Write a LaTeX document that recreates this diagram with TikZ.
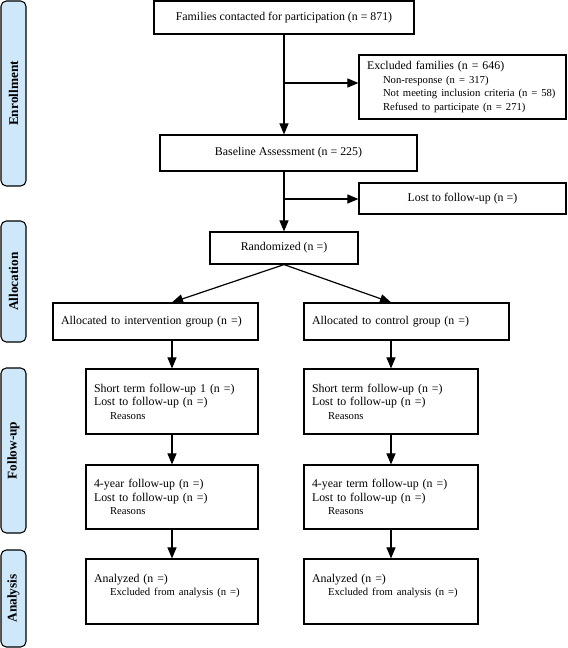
\documentclass[tikz,border=0pt]{standalone}
\usepackage{fontspec}
\setmainfont{Liberation Serif}
\usetikzlibrary{arrows}
\definecolor{stageblue}{RGB}{206,232,250}
\newcommand{\subline}[1]{\hspace*{12pt}{\fontsize{8}{10.1}\selectfont #1}}

\begin{document}
\begin{tikzpicture}[>=triangle 45, x=0.75pt, y=-0.75pt, line width=0.9pt]
			\tikzstyle{every node} = [font=\fontsize{8.9}{10.1}\selectfont];
			\tikzstyle{box} = [draw=black, rectangle, inner ysep=0pt, align=center];
			\tikzstyle{leftbox} = [box, align=left, inner xsep=6pt];
			\tikzstyle{stage} = [draw=black, fill=stageblue, rounded corners=4pt, rotate=90, minimum height=18.75pt, inner sep=0pt, line width=0.8pt, font=\bfseries\fontsize{10}{12}\selectfont];
			\useasboundingbox (0,0) rectangle (567,648);
			% phase bars on the left
			\node[stage, minimum width=138.75pt] (enrol) at (13.5, 93.5) {Enrollment};
			\node[stage, minimum width=90.75pt] (alloc) at (13.5, 281.5) {Allocation};
			\node[stage, minimum width=123.75pt] (follow) at (13.5, 450.5) {Follow-up};
			\node[stage, minimum width=72.75pt] (analys) at (13.5, 598.5) {Analysis};
			% enrollment
			\node[box, minimum width=195pt, minimum height=24.75pt] (fam) at (284, 17.5) {Families contacted for participation (n = 871)};
			\node[leftbox, text width=143.25pt, minimum height=48pt] (excl) at (462.5, 87) {Excluded families (n = 646)\\
				\subline{Non-response (n = 317)}\\
				\subline{Not meeting inclusion criteria (n = 58)}\\
				\subline{Refused to participate (n = 271)}};
			\node[box, minimum width=192.75pt, minimum height=27pt] (base) at (288.5, 153) {Baseline Assessment (n = 225)};
			\node[box, minimum width=155.25pt, minimum height=23.25pt] (lost) at (462.5, 198.5) {Lost to follow-up (n =)};
			\node[box, minimum width=111pt, minimum height=24pt] (rand) at (284, 248) {Randomized (n =)};
			% allocation
			\node[leftbox, text width=141.75pt, minimum height=27.75pt] (intv) at (155.5, 321.5) {Allocated to intervention group (n =)};
			\node[leftbox, text width=141.75pt, minimum height=27.75pt] (ctrl) at (406.5, 321.5) {Allocated to control group (n =)};
			% follow-up
			\node[leftbox, text width=117pt, minimum height=48.75pt] (fu1L) at (172, 401.5) {Short term follow-up 1 (n =)\\Lost to follow-up (n =)\\\subline{Reasons}};
			\node[leftbox, text width=118.5pt, minimum height=48.75pt] (fu1R) at (391, 401.5) {Short term follow-up (n =)\\Lost to follow-up (n =)\\\subline{Reasons}};
			\node[leftbox, text width=117pt, minimum height=48pt] (fu2L) at (172, 497) {4-year follow-up (n =)\\Lost to follow-up (n =)\\\subline{Reasons}};
			\node[leftbox, text width=118.5pt, minimum height=48pt] (fu2R) at (391, 497) {4-year term follow-up (n =)\\Lost to follow-up (n =)\\\subline{Reasons}};
			% analysis
			\node[leftbox, text width=117pt, minimum height=48.75pt] (anL) at (172, 591.5) {Analyzed (n =)\\\subline{Excluded from analysis (n =)}\\\mbox{}};
			\node[leftbox, text width=118.5pt, minimum height=48.75pt] (anR) at (391, 591.5) {Analyzed (n =)\\\subline{Excluded from analysis (n =)}\\\mbox{}};
			% connectors
			\coordinate (b1) at (284, 83);
			\coordinate (b2) at (284, 199);
			\draw[->] (fam) -- (fam |- base.north);
			\draw[->] (b1) -- (excl.west |- b1);
			\draw[->] (base.south -| rand) -- (rand);
			\draw[->] (b2) -- (lost.west |- b2);
			\draw[->] (rand.south) -- (intv.north -| fu1L);
			\draw[->] (rand.south) -- (ctrl.north -| fu1R);
			\draw[->] (intv.south -| fu1L) -- (fu1L);
			\draw[->] (ctrl.south -| fu1R) -- (fu1R);
			\draw[->] (fu1L) -- (fu2L);
			\draw[->] (fu1R) -- (fu2R);
			\draw[->] (fu2L) -- (anL);
			\draw[->] (fu2R) -- (anR);
		\end{tikzpicture}
\end{document}
